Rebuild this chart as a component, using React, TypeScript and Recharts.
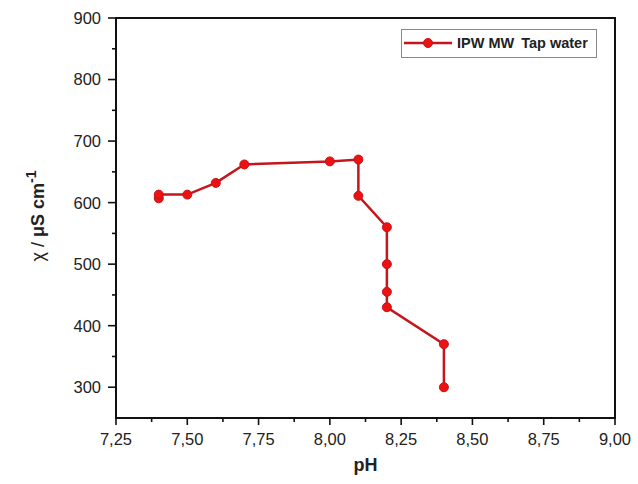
import React from 'react';
import {
  LineChart,
  Line,
  XAxis,
  YAxis,
  ReferenceArea,
} from 'recharts';

// pH / conductivity readings, in measuring order
const PH = [7.4, 7.4, 7.5, 7.6, 7.7, 8.0, 8.1, 8.1, 8.2, 8.2, 8.2, 8.2, 8.4, 8.4];
const CONDUCTIVITY = [607, 613, 613, 632, 662, 667, 670, 611, 560, 500, 455, 430, 370, 300];

const SERIES_NAME = 'IPW MW Tap water';

const X_TICKS = [7.25, 7.375, 7.5, 7.625, 7.75, 7.875, 8.0, 8.125, 8.25, 8.375, 8.5, 8.625, 8.75, 8.875, 9.0];
const Y_TICKS = [250, 300, 350, 400, 450, 500, 550, 600, 650, 700, 750, 800, 850, 900];

const data = PH.map((ph, i) => ({ ph, chi: CONDUCTIVITY[i] }));

const FONT = '"Liberation Sans", Arial, sans-serif';
const AXIS_COLOR = '#111';
const LINE_COLOR = '#c4161c';
const DOT_COLOR = '#ee1111';

const isMajorX = (v: number) => Math.abs(v * 4 - Math.round(v * 4)) < 1e-6;

const XTick = (props: any) => {
  const { x, y, payload } = props;
  const major = isMajorX(payload.value);
  return (
    <g>
      <line x1={x} x2={x} y1={y} y2={y + (major ? 7 : 4)} stroke={AXIS_COLOR} strokeWidth={1.6} />
      {major && (
        <text x={x} y={y + 27} textAnchor="middle" fontFamily={FONT} fontSize={16.5} fill="#222">
          {payload.value.toFixed(2).replace('.', ',')}
        </text>
      )}
    </g>
  );
};

const YTick = (props: any) => {
  const { x, y, payload } = props;
  const major = payload.value % 100 === 0;
  if (payload.value === 250) return null;
  return (
    <g>
      <line x1={x} x2={x - (major ? 8 : 4)} y1={y} y2={y} stroke={AXIS_COLOR} strokeWidth={1.6} />
      {major && (
        <text x={x - 15} y={y} dy="0.36em" textAnchor="end" fontFamily={FONT} fontSize={16.5} fill="#222">
          {payload.value}
        </text>
      )}
    </g>
  );
};

const YLabel = (props: any) => {
  const { viewBox } = props;
  const cx = viewBox.x + 44;
  const cy = viewBox.y + viewBox.height / 2 - 2;
  return (
    <text
      x={cx}
      y={cy}
      textAnchor="middle"
      transform={`rotate(-90, ${cx}, ${cy})`}
      fontFamily={FONT}
      fontSize={18}
      fill="#222"
    >
      <tspan>χ / </tspan>
      <tspan fontWeight="bold">μS cm</tspan>
      <tspan fontWeight="bold" fontSize={14} dy={-8}>-1</tspan>
    </text>
  );
};

const XLabel = (props: any) => {
  const { viewBox } = props;
  return (
    <text
      x={viewBox.x + viewBox.width / 2}
      y={viewBox.y + 53}
      textAnchor="middle"
      fontFamily={FONT}
      fontSize={18}
      fontWeight="bold"
      fill="#222"
    >
      pH
    </text>
  );
};

const LegendBox = () => (
  <svg width={196} height={29} style={{ display: 'block' }}>
    <rect x={0.5} y={0.5} width={195} height={28} fill="#fff" stroke="#888" strokeWidth={1} />
    <line x1={3} x2={51} y1={14} y2={14} stroke={LINE_COLOR} strokeWidth={2.5} />
    <circle cx={27} cy={14} r={4.5} fill={DOT_COLOR} stroke={LINE_COLOR} strokeWidth={1} />
    <text x={56} y={14} dy="0.36em" fontFamily={FONT} fontSize={14.5} fontWeight="bold" fill="#222">
      IPW MW<tspan dx={7}>Tap water</tspan>
    </text>
  </svg>
);

export default function App() {
  return (
    <div style={{ position: 'absolute', left: 0, top: 0, width: 638, height: 484, background: '#fff' }}>
      <LineChart width={638} height={484} data={data} margin={{ top: 18, right: 23, bottom: 0, left: 0 }}>
        <ReferenceArea
          x1={7.25}
          x2={9}
          y1={250}
          y2={900}
          fill="none"
          fillOpacity={0}
          stroke={AXIS_COLOR}
          strokeWidth={2}
          ifOverflow="visible"
        />
        <XAxis
          type="number"
          dataKey="ph"
          domain={[7.25, 9]}
          ticks={X_TICKS}
          interval={0}
          height={66}
          tickSize={0}
          tickMargin={0}
          tickLine={false}
          tick={<XTick />}
          axisLine={{ stroke: AXIS_COLOR, strokeWidth: 2 }}
          allowDataOverflow
          label={<XLabel />}
        />
        <YAxis
          type="number"
          dataKey="chi"
          domain={[250, 900]}
          ticks={Y_TICKS}
          interval={0}
          width={116}
          tickSize={0}
          tickMargin={0}
          tickLine={false}
          tick={<YTick />}
          axisLine={{ stroke: AXIS_COLOR, strokeWidth: 2 }}
          allowDataOverflow
          label={<YLabel />}
        />
        <Line
          type="linear"
          dataKey="chi"
          name={SERIES_NAME}
          stroke={LINE_COLOR}
          strokeWidth={2.5}
          dot={{ r: 4.5, fill: DOT_COLOR, stroke: LINE_COLOR, strokeWidth: 1 }}
          isAnimationActive={false}
        />
      </LineChart>
      <div style={{ position: 'absolute', left: 401, top: 29 }}>
        <LegendBox />
      </div>
    </div>
  );
}
